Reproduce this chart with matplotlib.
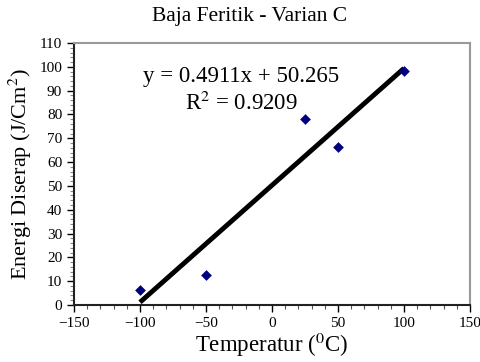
import matplotlib
matplotlib.use("Agg")
import matplotlib.pyplot as plt
import numpy as np
from matplotlib.ticker import MultipleLocator

plt.rcParams['font.family'] = ['Liberation Serif', 'DejaVu Serif']
plt.rcParams['mathtext.fontset'] = 'stix'

temperature = [-100, -50, 25, 50, 100]
energy = [6.5, 12.5, 78.0, 66.5, 98.3]
slope = 0.4911
intercept = 50.265
r2 = 0.9209
title = "Baja Feritik - Varian C"
xlabel = "Temperatur ($^0$C)"
ylabel = "Energi Diserap (J/Cm$^2$)"

fig = plt.figure(figsize=(4.81, 3.62), dpi=100)
ax = fig.add_axes([74/481, 1-305/362, (470-74)/481, (305-43)/362])

xf = np.array([min(temperature), max(temperature)])
ax.plot(xf, slope*xf + intercept, color='black', lw=3.5, solid_capstyle='butt', zorder=2)
ax.scatter(temperature, energy, marker='D', s=30, color='#000080', zorder=3, linewidths=0)

ax.set_xlim(-150, 150)
ax.set_ylim(0, 110)
ax.xaxis.set_major_locator(MultipleLocator(50))
ax.xaxis.set_minor_locator(MultipleLocator(10))
ax.yaxis.set_major_locator(MultipleLocator(10))
ax.yaxis.set_minor_locator(MultipleLocator(2))
ax.tick_params(which='major', direction='out', length=5, width=1, labelsize=11, colors='black')
ax.tick_params(which='minor', direction='out', length=3, width=0.8, color='#555555')
ax.tick_params(axis='y', which='minor', color='#888888')
for s in ['top', 'right']:
    ax.spines[s].set_color('#999999')
    ax.spines[s].set_linewidth(1.5)
for s in ['left', 'bottom']:
    ax.spines[s].set_color('#222222')
    ax.spines[s].set_linewidth(1.5)

ax.text(-23.5, 95.8, f"y = {slope}x + {intercept}", ha='center', va='center', fontsize=16.5)
ax.text(-23.5, 84.5, f"R$^2$ = {r2}", ha='center', va='center', fontsize=16.5)

fig.text(250/481, 1-17/362, title, ha='center', va='center', fontsize=15.5)
ax.set_xlabel(xlabel, fontsize=16.5, labelpad=1)
ax.set_ylabel(ylabel, fontsize=16, labelpad=4)

fig.savefig("out.png", dpi=100)
